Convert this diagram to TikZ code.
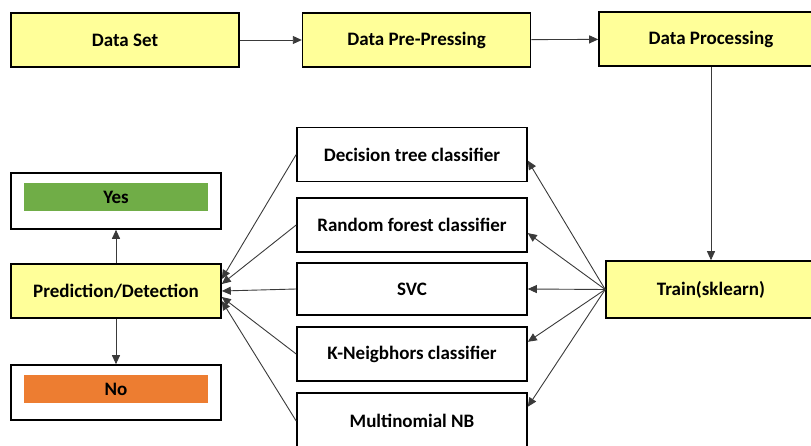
\documentclass[tikz,border=0pt]{standalone}
\usepackage{fontspec}
\setmainfont{Carlito}
\usepackage{tikz}
\usetikzlibrary{
	positioning,
	arrows.meta
}
\definecolor{stageyellow}{HTML}{FFFF99}
\definecolor{yesgreen}{HTML}{70AD47}
\definecolor{noorange}{HTML}{ED7D31}
\definecolor{linegray}{HTML}{3A3A3A}
\tikzset{
	stage/.style={
		draw=black,
		line width=1.6pt,
		fill=stageyellow,
		minimum width=228pt,
		minimum height=54pt,
		inner sep=0pt,
		font=\bfseries\fontsize{19}{22}\selectfont
	},
	model/.style={
		stage,
		fill=white,
		minimum width=230pt
	},
	result/.style={
		stage,
		fill=white,
		minimum width=210pt,
		minimum height=56pt
	},
	answer/.style={
		fill=#1,
		minimum width=184pt,
		minimum height=28pt,
		inner sep=0pt,
		font=\bfseries\fontsize{19}{22}\selectfont
	},
	every edge/.append style={
		draw=linegray,
		line width=0.9pt,
		-{Triangle[length=9pt,width=8pt]}
	}
}

\begin{document}
\begin{tikzpicture}[x=1pt,y=-1pt]
		\useasboundingbox (0,0) rectangle (811,446);
		\draw
			node[stage] at (125,40)            (ds)  {Data Set}
			node[stage,right=62pt of ds]       (dpp) {Data Pre-Pressing}
			node[stage,minimum width=224pt] at (711,39) (dp) {Data Processing}
			node[stage,minimum width=210pt,minimum height=57pt] at (711,289.5) (tr) {Train(sklearn)}

			node[model] at (412,154.5)         (dt)  {Decision tree classifier}
			node[model] at (412,225)           (rf)  {Random forest classifier}
			node[model,minimum height=52pt] at (412,289) (svc) {SVC}
			node[model] at (412,354)           (kn)  {K-Neigbhors classifier}
			node[model,minimum height=56pt] at (412,421) (mn) {Multinomial NB}

			node[result] at (116,201)          (yesbox) {}
			node[answer=yesgreen] at ([yshift=4pt]yesbox) (yes) {Yes}
			node[stage,minimum width=210pt] at (116,291) (pd) {Prediction/Detection}
			node[result,minimum height=55pt] at (116,392.5) (nobox) {}
			node[answer=noorange] at ([yshift=3.5pt]nobox) (no) {No}

			(ds)  edge (dpp)
			(dpp) edge (dp)
			(dp)  edge (tr)

			(tr.west) edge (dt.-3)
			(tr.west) edge (rf.-4)
			(tr.west) edge (svc.east)
			(tr.west) edge (kn.6)
			(tr.west) edge (mn.7)

			(dt.west)  edge ([yshift=12pt]pd.east)
			(rf.west)  edge ([yshift=7pt]pd.east)
			(svc.west) edge (pd.east)
			(kn.west)  edge ([yshift=-6pt]pd.east)
			(mn.west)  edge ([yshift=-10pt]pd.east)

			(pd) edge (yesbox)
			(pd) edge (nobox)
		;
	\end{tikzpicture}
\end{document}
